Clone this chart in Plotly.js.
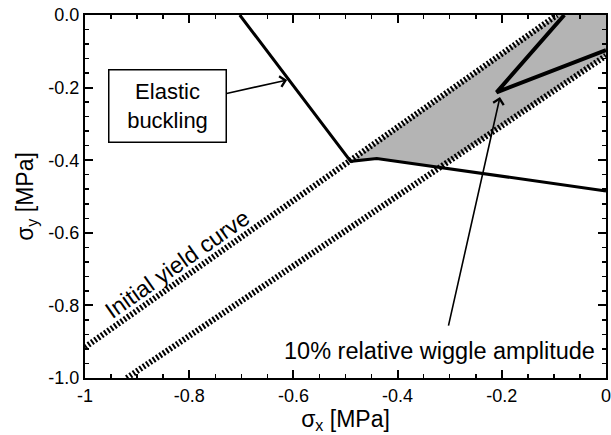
<!DOCTYPE html>
<html>
<head>
<meta charset="utf-8">
<script src="https://cdn.plot.ly/plotly-3.0.1.min.js"></script>
<style>html,body{margin:0;padding:0;background:#fff}#chart{width:611px;height:435px}</style>
</head>
<body>
<div id="chart"></div>
<script>
// Initial yield curve (upper dotted line)
var yieldX = [-1.0, -0.094];
var yieldY = [-0.915, 0.0];
// 10% relative wiggle amplitude yield curve (lower dotted line)
var wiggleX = [-0.92, 0.0];
var wiggleY = [-1.0, -0.112];
// Elastic buckling / failure curve (solid)
var buckleX = [-0.703, -0.49, -0.44, 0.0];
var buckleY = [0.0, -0.403, -0.395, -0.485];
// V-shaped solid curve inside shaded region
var vX = [-0.08, -0.21, 0.0];
var vY = [0.0, -0.213, -0.097];
// Shaded region vertices
var shadeX = [-0.49, -0.094, 0.0, 0.0, -0.317, -0.44, -0.49];
var shadeY = [-0.403, 0.0, 0.0, -0.112, -0.42, -0.395, -0.403];

// Annotation anchor points
var buckLabelX = -0.841, buckLabelY = -0.252, buckHeadX = -0.612, buckHeadY = -0.179;
var yieldLabelX = -0.823, yieldLabelY = -0.685;
var wigLabelX = -0.3205, wigLabelY = -0.926;
var wigTailX = -0.303, wigTailY = -0.86, wigHeadX = -0.2035, wigHeadY = -0.226;

var xTickVals = [-1, -0.8, -0.6, -0.4, -0.2, 0];
var xTickText = ['-1', '-0.8', '-0.6', '-0.4', '-0.2', '0'];
var yTickVals = [-1, -0.8, -0.6, -0.4, -0.2, 0];
var yTickText = ['-1.0', '-0.8', '-0.6', '-0.4', '-0.2', '0.0'];

var FONT = 'Liberation Sans, Arial, Helvetica, sans-serif';

var traces = [
  {x: shadeX, y: shadeY, mode: 'lines', fill: 'toself', fillcolor: '#b4b4b4',
   line: {width: 0, color: 'rgba(0,0,0,0)'}, hoverinfo: 'skip', showlegend: false},
  {x: yieldX, y: yieldY, mode: 'lines', line: {color: '#000', width: 6, dash: '2px,2px'}, showlegend: false},
  {x: wiggleX, y: wiggleY, mode: 'lines', line: {color: '#000', width: 6, dash: '2px,2px'}, showlegend: false},
  {x: buckleX, y: buckleY, mode: 'lines', line: {color: '#000', width: 3}, showlegend: false},
  {x: vX, y: vY, mode: 'lines', line: {color: '#000', width: 4}, showlegend: false}
];

var layout = {
  width: 611, height: 435,
  margin: {l: 85, r: 5, t: 15, b: 57},
  paper_bgcolor: '#fff', plot_bgcolor: '#fff',
  font: {family: FONT, color: '#000', size: 18},
  showlegend: false,
  xaxis: {
    range: [-1, 0], tickvals: xTickVals, ticktext: xTickText,
    ticks: 'inside', ticklen: 8, tickwidth: 2, tickcolor: '#000',
    showline: true, linewidth: 2, linecolor: '#000', mirror: 'allticks',
    ticklabeloverflow: 'allow',
    showgrid: false, zeroline: false, tickfont: {size: 18, family: FONT},
    minor: {dtick: 0.05, ticks: 'inside', ticklen: 4, tickwidth: 1.5, tickcolor: '#000', showgrid: false},
    title: {text: '\u03c3<sub>x</sub> [MPa]', font: {size: 23, family: FONT}, standoff: 4}
  },
  yaxis: {
    range: [-1, 0], tickvals: yTickVals, ticktext: yTickText,
    ticks: 'inside', ticklen: 8, tickwidth: 2, tickcolor: '#000',
    showline: true, linewidth: 2, linecolor: '#000', mirror: 'allticks',
    ticklabeloverflow: 'allow',
    showgrid: false, zeroline: false, tickfont: {size: 18, family: FONT},
    minor: {dtick: 0.04, ticks: 'inside', ticklen: 4, tickwidth: 1.5, tickcolor: '#000', showgrid: false},
    title: {text: '\u03c3<sub>y</sub> [MPa]', font: {size: 23, family: FONT}, standoff: 8}
  },
  annotations: [
    {x: buckHeadX, y: buckHeadY, ax: buckLabelX, ay: buckLabelY, axref: 'x', ayref: 'y',
     xref: 'x', yref: 'y', text: 'Elastic<br>buckling', showarrow: true,
     arrowhead: 4, arrowsize: 1.3, arrowwidth: 1.6, arrowcolor: '#000',
     font: {size: 22, family: FONT, color: '#000'},
     bordercolor: '#000', borderwidth: 1.5, borderpad: 0, bgcolor: '#fff',
     width: 116, height: 71},
    {x: yieldLabelX, y: yieldLabelY, xref: 'x', yref: 'y', text: 'Initial yield curve',
     showarrow: false, textangle: -35.1, font: {size: 23, family: FONT, color: '#000'}},
    {x: wigLabelX, y: wigLabelY, xref: 'x', yref: 'y', text: '10% relative wiggle amplitude',
     showarrow: false, font: {size: 23.5, family: FONT, color: '#000'}},
    {x: wigHeadX, y: wigHeadY, ax: wigTailX, ay: wigTailY, axref: 'x', ayref: 'y',
     xref: 'x', yref: 'y', text: '', showarrow: true,
     arrowhead: 4, arrowsize: 1.3, arrowwidth: 1.6, arrowcolor: '#000'}
  ]
};

Plotly.newPlot('chart', traces, layout, {staticPlot: true, displayModeBar: false});
</script>
</body>
</html>
